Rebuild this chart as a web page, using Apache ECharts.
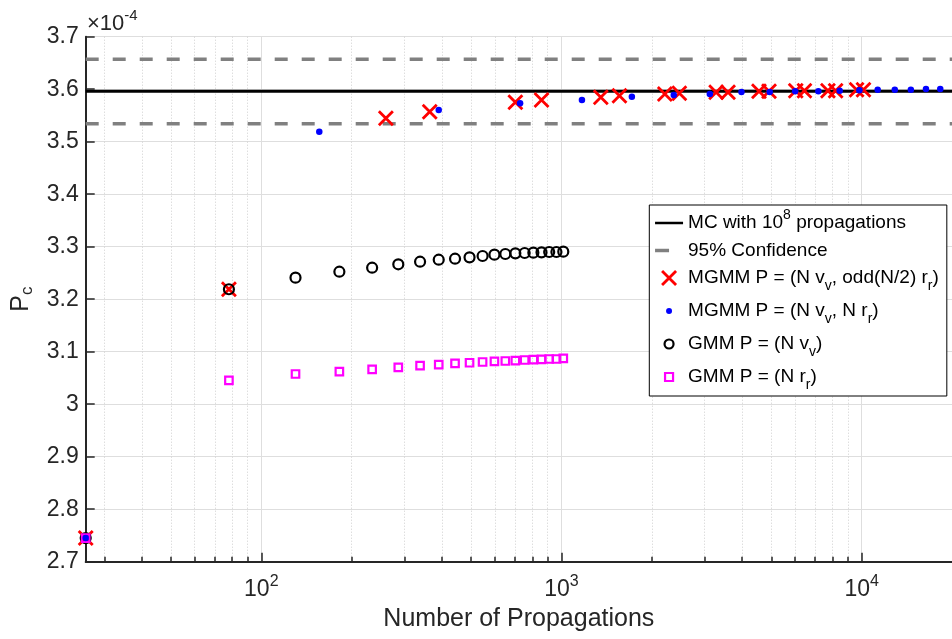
<!DOCTYPE html>
<html>
<head>
<meta charset="utf-8">
<script src="https://cdn.jsdelivr.net/npm/echarts@6/dist/echarts.min.js"></script>
<style>
  html, body { margin: 0; padding: 0; background: #fff; }
  #chart { width: 952px; height: 639px; }
</style>
</head>
<body>
<div id="chart"></div>
<script>
// Collision probability estimates (units of 1e-4) versus number of propagations.

// Monte Carlo reference and its 95% confidence band
const mcValue = 3.596;
const ciLow = 3.534;
const ciHigh = 3.657;

// MGMM P = (N v_v, odd(N/2) r_r)
const mgmmOddN = [26, 78, 260, 364, 702, 858, 1352, 1560, 2210, 2470, 3276, 3588, 4550, 4914, 6032, 6448, 7722, 8190, 9620, 10140];
const mgmmOddP = [2.745, 3.219, 3.5446, 3.5572, 3.575, 3.5794, 3.5845, 3.5876, 3.5909, 3.5922, 3.594, 3.594, 3.596, 3.596, 3.5972, 3.5972, 3.5972, 3.5972, 3.599, 3.599];

// MGMM P = (N v_v, N r_r)
const mgmmFullN = [26, 156, 390, 728, 1170, 1716, 2366, 3120, 3978, 4940, 6006, 7176, 8450, 9828, 11310, 12896, 14586, 16380, 18278];
const mgmmFullP = [2.745, 3.519, 3.5604, 3.5731, 3.5794, 3.5857, 3.589, 3.5909, 3.5947, 3.5947, 3.596, 3.596, 3.5972, 3.5978, 3.599, 3.599, 3.599, 3.6004, 3.6004];

// GMM runs (velocity-only and range-only)
const gmmN = [26, 78, 130, 182, 234, 286, 338, 390, 442, 494, 546, 598, 650, 702, 754, 806, 858, 910, 962, 1014];
const gmmVelP = [2.745, 3.219, 3.241, 3.2524, 3.260, 3.2665, 3.2714, 3.2752, 3.2771, 3.2797, 3.2823, 3.2848, 3.2861, 3.2874, 3.288, 3.2886, 3.2893, 3.2899, 3.2899, 3.2905];
const gmmRngP = [2.745, 3.0455, 3.0575, 3.0619, 3.0664, 3.0702, 3.0733, 3.0752, 3.0778, 3.0790, 3.0804, 3.0817, 3.0823, 3.0829, 3.0842, 3.0848, 3.0855, 3.0861, 3.0861, 3.0874];

// Axis ranges and tick positions
const xMin = 26, xMax = 20000;
const yMin = 2.7, yMax = 3.7, yStep = 0.1;
const xMajorTicks = [100, 1000, 10000];
const xMinorTicks = [30, 40, 50, 60, 70, 80, 90, 200, 300, 400, 500, 600, 700, 800, 900, 2000, 3000, 4000, 5000, 6000, 7000, 8000, 9000];

// Series names and their legend labels (rich text for sub/superscripts)
const names = {
  mc: 'MC with 10^8 propagations',
  ci: '95% Confidence',
  odd: 'MGMM P = (N v_v, odd(N/2) r_r)',
  full: 'MGMM P = (N v_v, N r_r)',
  vel: 'GMM P = (N v_v)',
  rng: 'GMM P = (N r_r)'
};
const legendRich = {};
legendRich[names.mc] = '{t|MC with 10}{sup|8}{t| propagations}';
legendRich[names.ci] = '{t|95% Confidence}';
legendRich[names.odd] = '{t|MGMM P = (N v}{sub|v}{t|, odd(N/2) r}{sub|r}{t|)}';
legendRich[names.full] = '{t|MGMM P = (N v}{sub|v}{t|, N r}{sub|r}{t|)}';
legendRich[names.vel] = '{t|GMM P = (N v}{sub|v}{t|)}';
legendRich[names.rng] = '{t|GMM P = (N r}{sub|r}{t|)}';

const FONT = "'Liberation Sans', Arial, Helvetica, sans-serif";
const AX = '#262626';
const X_PATH = 'path://M0,0L10,10M10,0L0,10';
const CLEAR = 'rgba(0,0,0,0)';

const pairs = (xs, ys) => xs.map((x, i) => [x, ys[i]]);

const chart = echarts.init(document.getElementById('chart'), null, { renderer: 'canvas' });

chart.setOption({
  animation: false,
  backgroundColor: '#fff',
  grid: { left: 85.7, top: 36.7, width: 868.2, height: 525, containLabel: false },
  xAxis: [
    {
      type: 'log', logBase: 10, min: xMin, max: xMax, position: 'bottom',
      axisLine: { show: true, onZero: false, lineStyle: { color: AX, width: 2 } },
      axisTick: { show: true, inside: true, length: 9, customValues: xMajorTicks, lineStyle: { color: AX, width: 1.5 } },
      axisLabel: {
        show: true, customValues: xMajorTicks, margin: 12,
        formatter: v => '{b|10}{s|' + Math.round(Math.log10(v)) + '}',
        rich: {
          b: { fontFamily: FONT, fontSize: 23, color: AX, lineHeight: 32 },
          s: { fontFamily: FONT, fontSize: 16, color: AX, lineHeight: 15, verticalAlign: 'top' }
        }
      },
      splitLine: { show: true, lineStyle: { color: '#dedede', width: 1 } },
      name: 'Number of Propagations', nameLocation: 'middle', nameGap: 45,
      nameTextStyle: { fontFamily: FONT, fontSize: 25, color: AX }
    },
    {
      type: 'log', logBase: 10, min: xMin, max: xMax, position: 'bottom',
      axisLine: { show: false },
      axisTick: { show: true, inside: true, length: 5, customValues: xMinorTicks, lineStyle: { color: AX, width: 1.5 } },
      axisLabel: { show: false },
      splitLine: { show: true, lineStyle: { color: '#cfcfcf', width: 1, type: [1, 2] } }
    }
  ],
  yAxis: {
    type: 'value', min: yMin, max: yMax, interval: yStep,
    axisLine: { show: true, lineStyle: { color: AX, width: 2 } },
    axisTick: { show: true, inside: true, length: 9, lineStyle: { color: AX, width: 1.5 } },
    axisLabel: { fontFamily: FONT, fontSize: 23, color: AX, margin: 7 },
    splitLine: { show: true, lineStyle: { color: '#dedede', width: 1 } },
    name: '{b|P}{s|c}', nameLocation: 'middle', nameRotate: 90, nameGap: 48,
    nameTextStyle: {
      rich: {
        b: { fontFamily: FONT, fontSize: 25, color: AX, lineHeight: 30 },
        s: { fontFamily: FONT, fontSize: 17, color: AX, lineHeight: 12, verticalAlign: 'bottom' }
      }
    }
  },
  legend: {
    orient: 'vertical', left: 649.3, top: 205,
    padding: [3, 8, 4, 4], itemGap: 8.5,
    itemWidth: 28, itemHeight: 14,
    backgroundColor: '#fff', borderColor: '#000', borderWidth: 1,
    formatter: name => legendRich[name] || name,
    textStyle: {
      rich: {
        t: { fontFamily: FONT, fontSize: 19, color: '#000', lineHeight: 30 },
        sub: { fontFamily: FONT, fontSize: 14, color: '#000', lineHeight: 12, verticalAlign: 'bottom' },
        sup: { fontFamily: FONT, fontSize: 14, color: '#000', lineHeight: 12, verticalAlign: 'top' }
      }
    },
    data: [
      { name: names.mc, icon: 'path://M0,0M28,14M0,7L28,7', itemStyle: { color: CLEAR, borderColor: '#000', borderWidth: 2.5 } },
      { name: names.ci, icon: 'path://M0,0M28,14M0,7L14,7', itemStyle: { color: CLEAR, borderColor: '#808080', borderWidth: 3.5 } },
      { name: names.odd, icon: X_PATH, itemStyle: { color: CLEAR, borderColor: '#ff0000', borderWidth: 2.8 } },
      { name: names.full, icon: 'path://M0,0M14,14M4,7A3,3,0,1,1,10,7A3,3,0,1,1,4,7Z', itemStyle: { color: '#0000ff', borderWidth: 0 } },
      { name: names.vel, icon: 'path://M0,0M14,14M2.5,7A4.5,4.5,0,1,1,11.5,7A4.5,4.5,0,1,1,2.5,7Z', itemStyle: { color: CLEAR, borderColor: '#000', borderWidth: 2.2 } },
      { name: names.rng, icon: 'path://M0,0M14,14M3,3L11,3L11,11L3,11Z', itemStyle: { color: CLEAR, borderColor: '#ff00ff', borderWidth: 2.2 } }
    ]
  },
  graphic: [
    {
      type: 'text', left: 87, top: 8.5,
      style: {
        text: '{a|×10}{s|-4}',
        rich: {
          a: { fontFamily: FONT, fontSize: 22, fill: AX, lineHeight: 30 },
          s: { fontFamily: FONT, fontSize: 15, fill: AX, lineHeight: 14, verticalAlign: 'top' }
        }
      }
    }
  ],
  series: [
    {
      name: names.mc, type: 'line', xAxisIndex: 0, symbol: 'none', z: 3,
      data: [[xMin, mcValue], [xMax, mcValue]],
      lineStyle: { color: '#000', width: 3 }, itemStyle: { color: '#000' }
    },
    {
      name: names.ci, type: 'line', xAxisIndex: 0, symbol: 'none', z: 3,
      data: [[xMin, ciHigh], [xMax, ciHigh]],
      lineStyle: { color: '#808080', width: 3.5, type: [13, 14] }, itemStyle: { color: '#808080' }
    },
    {
      name: names.ci, type: 'line', xAxisIndex: 0, symbol: 'none', z: 3,
      data: [[xMin, ciLow], [xMax, ciLow]],
      lineStyle: { color: '#808080', width: 3.5, type: [13, 14] }, itemStyle: { color: '#808080' }
    },
    {
      name: names.odd, type: 'scatter', xAxisIndex: 0, clip: false, z: 4,
      symbol: X_PATH, symbolSize: 14,
      itemStyle: { color: CLEAR, borderColor: '#ff0000', borderWidth: 2.8, opacity: 1 },
      data: pairs(mgmmOddN, mgmmOddP)
    },
    {
      name: names.vel, type: 'scatter', xAxisIndex: 0, clip: false, z: 5,
      symbol: 'circle', symbolSize: 10,
      itemStyle: { color: CLEAR, borderColor: '#000', borderWidth: 2.2, opacity: 1 },
      data: pairs(gmmN, gmmVelP)
    },
    {
      name: names.rng, type: 'scatter', xAxisIndex: 0, clip: false, z: 6,
      symbol: 'rect', symbolSize: 7.5,
      itemStyle: { color: CLEAR, borderColor: '#ff00ff', borderWidth: 2.2, opacity: 1 },
      data: pairs(gmmN, gmmRngP)
    },
    {
      name: names.full, type: 'scatter', xAxisIndex: 0, clip: false, z: 7,
      symbol: 'circle', symbolSize: 6.5,
      itemStyle: { color: '#0000ff', opacity: 1 },
      data: pairs(mgmmFullN, mgmmFullP)
    }
  ]
});
</script>
</body>
</html>
